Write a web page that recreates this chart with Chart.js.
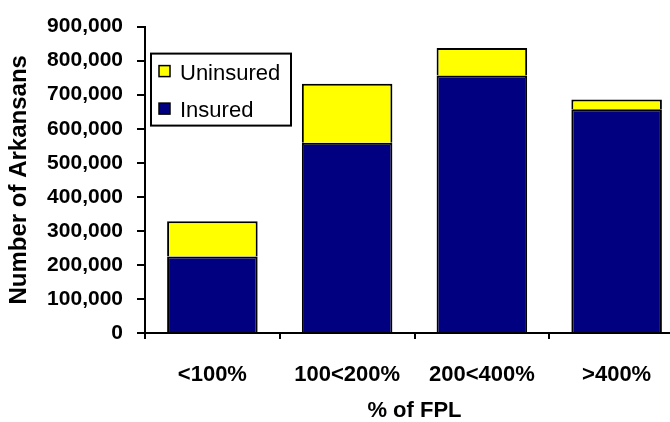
<!DOCTYPE html>
<html>
<head>
<meta charset="utf-8">
<script src="https://cdn.jsdelivr.net/npm/chart.js@4/dist/chart.umd.min.js"></script>
<style>
  html, body { margin: 0; padding: 0; background: #ffffff; overflow: hidden; }
  #wrap { position: relative; width: 700px; height: 422px; }
</style>
</head>
<body>
<div id="wrap"><canvas id="chart"></canvas></div>
<script>
// Arkansans by income as a percentage of the federal poverty level
const categories = ['<100%', '100<200%', '200<400%', '>400%'];
const insured    = [225000, 559000, 756000, 657000];
const uninsured  = [103000, 173000,  81000,  29000];
const yMin = 0;
const yMax = 900000;
const yStep = 100000;

const FONT = '"Liberation Sans", Arial, Helvetica, sans-serif';

// Boxed legend drawn inside the plot area, top-left corner
const boxLegend = {
  id: 'boxLegend',
  afterDraw(chart) {
    const { ctx, chartArea } = chart;
    const items = chart.data.datasets.slice().reverse();
    const x = chartArea.left + 6;
    const y = chartArea.top + 27;
    const w = 140, h = 72;
    ctx.save();
    ctx.fillStyle = '#ffffff';
    ctx.fillRect(x, y, w, h);
    ctx.lineWidth = 2;
    ctx.strokeStyle = '#000000';
    ctx.strokeRect(x, y, w, h);
    ctx.font = '22px ' + FONT;
    ctx.textBaseline = 'middle';
    ctx.textAlign = 'left';
    items.forEach((ds, i) => {
      const rowY = y + 17 + i * 37.5;
      ctx.fillStyle = ds.backgroundColor;
      ctx.fillRect(x + 8, rowY - 5, 11, 11);
      ctx.lineWidth = 1.5;
      ctx.strokeRect(x + 8, rowY - 5, 11, 11);
      ctx.fillStyle = '#000000';
      ctx.fillText(ds.label, x + 29, rowY + 3);
    });
    ctx.restore();
  }
};

new Chart(document.getElementById('chart'), {
  type: 'bar',
  data: {
    labels: categories,
    datasets: [
      {
        label: 'Insured',
        data: insured,
        backgroundColor: '#000080',
        borderColor: '#000000',
        borderWidth: 2,
        barPercentage: 0.672,
        categoryPercentage: 1
      },
      {
        label: 'Uninsured',
        data: uninsured,
        backgroundColor: '#ffff00',
        borderColor: '#000000',
        borderWidth: 2,
        barPercentage: 0.672,
        categoryPercentage: 1
      }
    ]
  },
  options: {
    responsive: true,
    maintainAspectRatio: false,
    animation: false,
    layout: { padding: { left: 0, top: 21, right: 16, bottom: 0 } },
    plugins: {
      legend: { display: false },
      tooltip: { enabled: false }
    },
    scales: {
      x: {
        stacked: true,
        offset: true,
        grid: {
          display: true,
          drawOnChartArea: false,
          drawTicks: true,
          tickLength: 6,
          color: '#000000',
          lineWidth: 2,
          offset: true
        },
        border: { display: true, color: '#000000', width: 2 },
        ticks: {
          color: '#000000',
          font: { family: FONT, size: 22, weight: 'bold' },
          padding: 23,
          maxRotation: 0
        },
        title: {
          display: true,
          text: '% of FPL',
          color: '#000000',
          font: { family: FONT, size: 22, weight: 'bold', lineHeight: 1 },
          padding: 0
        },
        afterFit(scale) { scale.height = 89; }
      },
      y: {
        stacked: true,
        min: yMin,
        max: yMax,
        grid: {
          display: true,
          drawOnChartArea: false,
          drawTicks: true,
          tickLength: 8,
          color: '#000000',
          lineWidth: 2
        },
        border: { display: true, color: '#000000', width: 2 },
        ticks: {
          stepSize: yStep,
          color: '#000000',
          font: { family: FONT, size: 21, weight: 'bold' },
          padding: 14,
          callback: (v) => v.toLocaleString('en-US')
        },
        title: {
          display: true,
          text: 'Number of Arkansans',
          color: '#000000',
          font: { family: FONT, size: 24, weight: 'bold', lineHeight: 1 },
          padding: { top: 7, bottom: 0 }
        },
        afterFit(scale) { scale.width = 145; }
      }
    }
  },
  plugins: [boxLegend]
});
</script>
</body>
</html>
